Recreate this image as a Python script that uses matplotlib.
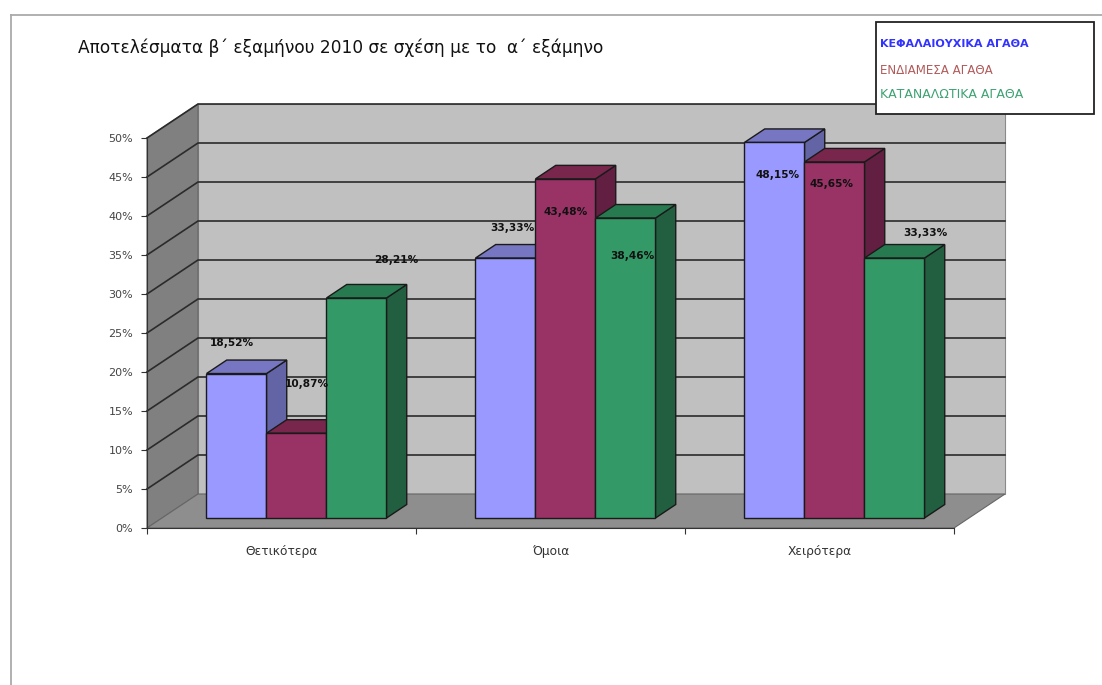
import matplotlib
matplotlib.use("Agg")
import matplotlib.pyplot as plt
from matplotlib.patches import Rectangle
from matplotlib.lines import Line2D

plt.rcParams["font.family"] = ["DejaVu Sans"]

categories = ["Θετικότερα", "Όμοια", "Χειρότερα"]
series_names = ["ΚΕΦΑΛΑΙΟΥΧΙΚΑ ΑΓΑΘΑ", "ΕΝΔΙΑΜΕΣΑ ΑΓΑΘΑ", "ΚΑΤΑΝΑΛΩΤΙΚΑ ΑΓΑΘΑ"]
capital = [18.52, 33.33, 48.15]
intermediate = [10.87, 43.48, 45.65]
consumer = [28.21, 38.46, 33.33]
y_ticks = [0, 5, 10, 15, 20, 25, 30, 35, 40, 45, 50]

W, H = 1102, 685
# fake 3D: how far the back wall is shifted from the front plane
DX = 51 / 269
DY = 34 / 7.8
BAR_W = 60 / 269
D0, D1 = 0.294, 0.691

front = ["#9999FF", "#993366", "#339966"]
top = ["#7676C2", "#78264C", "#277A50"]
side = ["#6264A6", "#621F41", "#215F40"]
legend_colors = ["#3333FF", "#B25A5A", "#3DA271"]
edge = "#1a1a1a"

# label offsets from the bar's front top centre, in pixels
label_offsets = [
    [(-5, 31), (10, 49), (40, 38)],
    [(7, 30), (0, -33), (7, -38)],
    [(3, -33), (-3, -22), (31, 25)],
]

fig = plt.figure(figsize=(W / 100, H / 100), dpi=100)
ax = fig.add_axes([147 / W, (H - 528) / H, 807 / W, 390 / H])
ax.set_xlim(0, 3)
ax.set_ylim(0, 50)
ax.patch.set_visible(False)


def poly(xs, ys, fc, ec="none", lw=0.0, z=1):
    ax.fill(xs, ys, facecolor=fc, edgecolor=ec, linewidth=lw, clip_on=False, zorder=z)


# walls and floor
poly([DX, 3 + DX, 3 + DX, DX], [DY, DY, 50 + DY, 50 + DY], "#C0C0C0", "#8a8a8a", 0.8)
poly([0, DX, DX, 0], [0, DY, 50 + DY, 50], "#808080", "#666666", 0.8)
poly([0, 3, 3 + DX, DX], [0, 0, DY, DY], "#8E8E8E", "#666666", 0.8)

for v in y_ticks[1:]:
    ax.plot([0, DX, 3 + DX], [v, v + DY, v + DY], color="#2b2b2b", lw=1.2,
            clip_on=False, zorder=2)

# bars, left to right so each one covers the side of the previous
for i, values in enumerate(zip(capital, intermediate, consumer)):
    for j, v in enumerate(values):
        x0 = i + (1 - 3 * BAR_W) / 2 + j * BAR_W + D0 * DX
        x1 = x0 + BAR_W
        y0 = D0 * DY
        y1 = v + y0
        sx = (D1 - D0) * DX
        sy = (D1 - D0) * DY
        poly([x1, x1 + sx, x1 + sx, x1], [y0, y0 + sy, y1 + sy, y1], side[j], edge, 1.0, 3)
        poly([x0, x1, x1 + sx, x0 + sx], [y1, y1, y1 + sy, y1 + sy], top[j], edge, 1.0, 3)
        poly([x0, x1, x1, x0], [y0, y0, y1, y1], front[j], edge, 1.0, 3)

for i, values in enumerate(zip(capital, intermediate, consumer)):
    for j, v in enumerate(values):
        xc = i + (1 - 3 * BAR_W) / 2 + (j + 0.5) * BAR_W + D0 * DX
        ax.annotate(f"{v:.2f}%".replace(".", ","), xy=(xc, v + D0 * DY),
                    xytext=label_offsets[i][j], textcoords="offset pixels",
                    ha="center", va="center", fontsize=7.6, fontweight="bold",
                    color="#111111", annotation_clip=False, zorder=5)

# axes
for s in ["top", "right"]:
    ax.spines[s].set_visible(False)
ax.spines["left"].set_color("#333333")
ax.spines["bottom"].set_color("#333333")
ax.spines["left"].set_zorder(2)
ax.spines["bottom"].set_zorder(2)
ax.set_yticks(y_ticks)
ax.set_yticklabels([f"{v}%" for v in y_ticks], fontsize=8, color="#444444")
ax.set_xticks([0, 1, 2, 3])
ax.set_xticklabels([])
ax.set_xticks([0.5, 1.5, 2.5], minor=True)
ax.set_xticklabels(categories, minor=True, fontsize=8.8, color="#333333")
ax.tick_params(axis="x", which="major", length=4, color="#333333")
ax.tick_params(axis="x", which="minor", length=0, pad=12)
ax.tick_params(axis="y", length=4, color="#333333", pad=6)

fig.text(78 / W, 1 - 48 / H, "Αποτελέσματα β΄ εξαμήνου 2010 σε σχέση με το  α΄ εξάμηνο",
         fontsize=12.25, va="center", color="#111111")

# page border, only top and left are in the frame
fig.add_artist(Line2D([11 / W, 1], [1 - 15 / H, 1 - 15 / H], color="#aaaaaa", lw=1.3))
fig.add_artist(Line2D([11 / W, 11 / W], [0, 1 - 15 / H], color="#aaaaaa", lw=1.3))

# legend box, hand drawn in the source
fig.add_artist(Rectangle((876 / W, 1 - 114 / H), 218 / W, 92 / H, transform=fig.transFigure,
                         facecolor="white", edgecolor="#222222", linewidth=1.3, zorder=6))
for name, color, py, weight, size in zip(series_names, legend_colors, [44, 70, 95],
                                         ["bold", "normal", "normal"], [8.0, 8.6, 9.0]):
    fig.text(880 / W, 1 - py / H, name, color=color, fontsize=size, fontweight=weight,
             va="center", zorder=7)

fig.savefig("out.png", dpi=100)
